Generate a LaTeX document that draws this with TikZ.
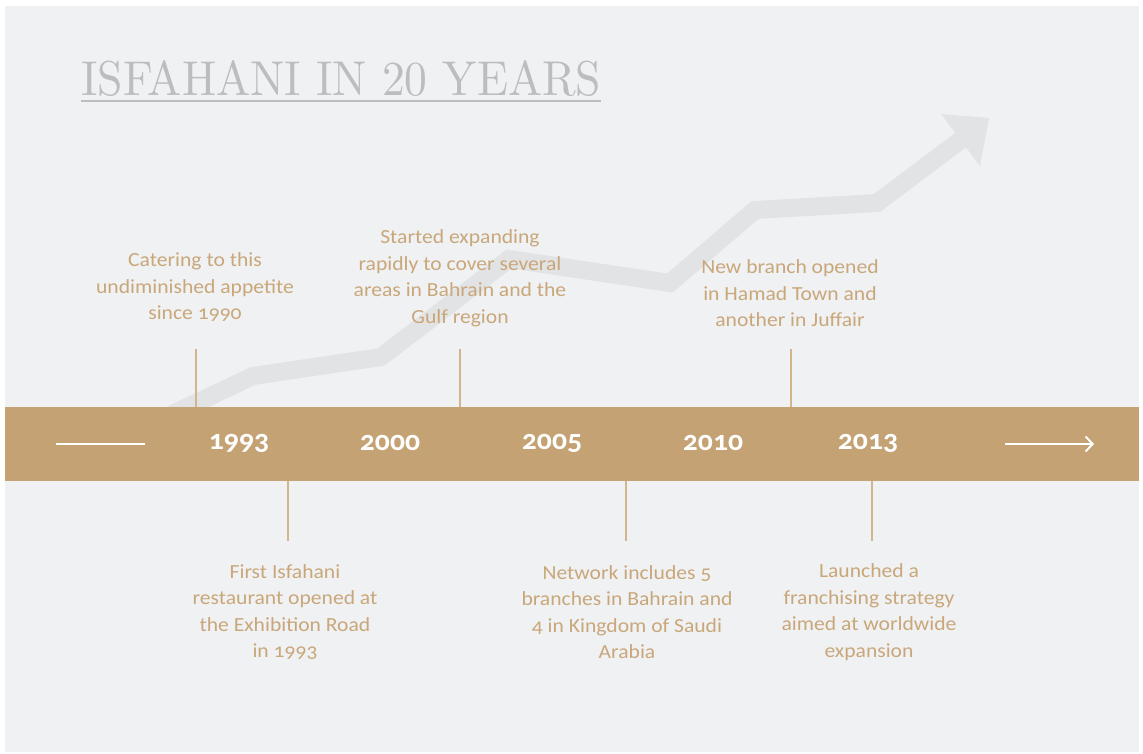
\documentclass[tikz,border=0pt]{standalone}
\usepackage{fontspec}
\setmainfont{Carlito}[Numbers=OldStyle]
\newfontfamily\descfont{Carlito}[Numbers=OldStyle, FakeStretch=1.08]
\newfontfamily\yearfont{Carlito}[Numbers=OldStyle, FakeStretch=1.06]
\usetikzlibrary{arrows.meta}
\definecolor{bgc}{HTML}{F0F1F3}
\definecolor{bandc}{HTML}{C4A274}
\definecolor{txtc}{HTML}{C9A77A}
\definecolor{tickc}{HTML}{D2B58F}
\definecolor{arrc}{HTML}{E2E3E5}
\definecolor{titlec}{HTML}{BCBDC0}
\tikzset{
  desc/.style={align=center, text=txtc, font=\descfont\fontsize{20}{26.5}\selectfont, inner sep=0pt},
  year/.style={text=white, font=\yearfont\fontsize{28}{30}\selectfont\bfseries, inner sep=0pt},
  tick/.style={draw=tickc, line width=1.3pt},
  whiteline/.style={draw=white, line width=2pt},
}
\begin{document}
\begin{tikzpicture}[x=1pt,y=-1pt]
\useasboundingbox (0,0) rectangle (1143,754);
\fill[white] (0,0) rectangle (1143,754);
\fill[bgc] (5,6) rectangle (1139,752);
% growth arrow
\draw[arrc, line width=18pt, line join=miter] (160,420) -- (253,376) -- (381,357) -- (509,259) -- (670,283) -- (755,210) -- (877,203) -- (962,139);
\fill[arrc] (941,114) -- (989,118) -- (980,166) -- cycle;
% title
\node[anchor=south west, inner sep=0pt, text=titlec] (title) at (81,97) {\resizebox{520pt}{35pt}{\fontspec{Latin Modern Roman}ISFAHANI IN 20 YEARS}};
\draw[titlec, line width=2pt] (81,101) -- (601,101);
% band
\fill[bandc] (5,407) rectangle (1139,481);
\coordinate (l1) at (56,444);
\coordinate (l2) at (145,444);
\draw[whiteline] (l1) -- (l2);
\coordinate (r1) at (1005,444);
\coordinate (r2) at (1094,444);
\draw[whiteline, -{Straight Barb[length=7pt,width=15pt,line width=2pt]}] (r1) -- (r2);
\node[year] (y1993) at (239,443) {1993};
\node[year] (y2000) at (390,443) {2000};
\node[year] (y2005) at (552,443) {2005};
\node[year] (y2010) at (713,443) {2010};
\node[year] (y2013) at (868,443) {2013};
% descriptions
\node[desc] (dA) at (195,287.5) {Catering to this\\undiminished appetite\\since 1990};
\node[desc] (dB) at (460,278.5) {Started expanding\\rapidly to cover several\\areas in Bahrain and the\\Gulf region};
\node[desc] (dC) at (790,293.5) {New branch opened\\in Hamad Town and\\another in Juffair};
\node[desc] (dD) at (285,612) {First Isfahani\\restaurant opened at\\the Exhibition Road\\in 1993};
\node[desc] (dE) at (627,612) {Network includes 5\\branches in Bahrain and\\4 in Kingdom of Saudi\\Arabia};
\node[desc] (dF) at (869,612) {Launched a\\franchising strategy\\aimed at worldwide\\expansion};
% ticks
\coordinate (tA) at (196,349); \coordinate (tA2) at (196,407);
\coordinate (tB) at (460,349); \coordinate (tB2) at (460,407);
\coordinate (tC) at (791,349); \coordinate (tC2) at (791,407);
\coordinate (tD) at (288,481); \coordinate (tD2) at (288,541);
\coordinate (tE) at (626,481); \coordinate (tE2) at (626,541);
\coordinate (tF) at (872,481); \coordinate (tF2) at (872,541);
\draw[tick] (tA) -- (tA2);
\draw[tick] (tB) -- (tB2);
\draw[tick] (tC) -- (tC2);
\draw[tick] (tD) -- (tD2);
\draw[tick] (tE) -- (tE2);
\draw[tick] (tF) -- (tF2);
\end{tikzpicture}
\end{document}
